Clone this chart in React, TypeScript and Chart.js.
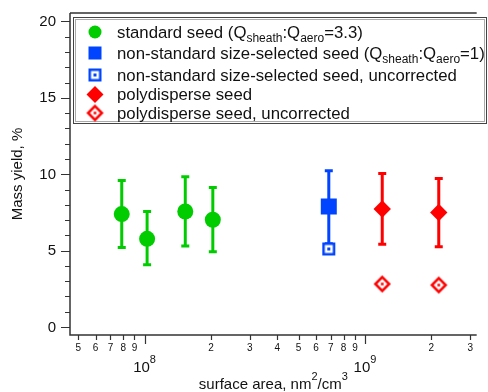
import React, { useEffect, useRef } from "react";
import { Chart, registerables } from "chart.js";
Chart.register(...registerables);

// ---- data ----
const standardX = [7.88e7, 1.027e8, 1.53e8, 2.04e8];
const standardY = [7.39, 5.77, 7.56, 7.02];
const standardLow = [5.2, 4.07, 5.31, 4.92];
const standardHigh = [9.59, 7.56, 9.84, 9.13];

const nonStdX = [6.85e8];
const nonStdY = [7.89];
const nonStdLow = [5.45];
const nonStdHigh = [10.23];
const nonStdUncY = [5.11];

const polyX = [1.197e9, 2.16e9];
const polyY = [7.72, 7.5];
const polyLow = [5.42, 5.25];
const polyHigh = [10.05, 9.72];
const polyUncY = [2.82, 2.75];

const xMinorTicks = [5e7, 6e7, 7e7, 8e7, 9e7, 2e8, 3e8, 4e8, 5e8, 6e8, 7e8, 8e8, 9e8, 2e9, 3e9];
const xMinorLabels = ["5", "6", "7", "8", "9", "2", "3", "4", "5", "6", "7", "8", "9", "2", "3"];
const xMajorTicks = [1e8, 1e9];
const xMajorExp = ["8", "9"];
const yMajorTicks = [0, 5, 10, 15, 20];
const yMajorLabels = ["0", "5", "10", "15", "20"];
const yMinorTicks = [1, 2, 3, 4, 6, 7, 8, 9, 11, 12, 13, 14, 16, 17, 18, 19];

type Seg = { t: string; sub?: boolean; sup?: boolean };
const legendLabels: Seg[][] = [
  [{ t: "standard seed (Q" }, { t: "sheath", sub: true }, { t: ":Q" }, { t: "aero", sub: true }, { t: "=3.3)" }],
  [{ t: "non-standard size-selected seed (Q" }, { t: "sheath", sub: true }, { t: ":Q" }, { t: "aero", sub: true }, { t: "=1)" }],
  [{ t: "non-standard size-selected seed, uncorrected" }],
  [{ t: "polydisperse seed" }],
  [{ t: "polydisperse seed, uncorrected" }],
];
const xTitle: Seg[] = [{ t: "surface area, nm" }, { t: "2", sup: true }, { t: "/cm" }, { t: "3", sup: true }];
const yTitle = "Mass yield, %";

const GREEN = "rgb(0,204,0)";
const BLUE = "rgb(0,68,255)";
const RED = "rgb(255,0,0)";
const FONT = "'Liberation Sans', Arial, sans-serif";

function openSquare(color: string, half: number) {
  const c = document.createElement("canvas");
  const s = Math.ceil(half * 2 + 4);
  c.width = s;
  c.height = s;
  const g = c.getContext("2d")!;
  const m = s / 2;
  g.fillStyle = "#fff";
  g.fillRect(m - half, m - half, half * 2, half * 2);
  g.strokeStyle = color;
  g.lineWidth = 2.5;
  g.strokeRect(m - half + 1.25, m - half + 1.25, half * 2 - 2.5, half * 2 - 2.5);
  g.fillStyle = color;
  g.fillRect(m - 1.5, m - 1.5, 3, 3);
  return c;
}

function openDiamond(color: string, r: number) {
  const c = document.createElement("canvas");
  const s = Math.ceil(r * 2 + 4);
  c.width = s;
  c.height = s;
  const g = c.getContext("2d")!;
  const m = s / 2;
  const ri = r - 1.6;
  g.beginPath();
  g.moveTo(m, m - ri);
  g.lineTo(m + ri, m);
  g.lineTo(m, m + ri);
  g.lineTo(m - ri, m);
  g.closePath();
  g.fillStyle = "#fff";
  g.fill();
  g.strokeStyle = color;
  g.lineWidth = 2.5;
  g.lineJoin = "miter";
  g.stroke();
  g.fillStyle = color;
  g.fillRect(m - 1.3, m - 1.3, 2.6, 2.6);
  return c;
}

function drawRich(ctx: CanvasRenderingContext2D, segs: Seg[], x: number, y: number, size: number, subSize: number, align: "left" | "center" = "left", subDy = 4) {
  const fontOf = (s: Seg) => `${s.sub || s.sup ? subSize : size}px ${FONT}`;
  let total = 0;
  for (const s of segs) {
    ctx.font = fontOf(s);
    total += ctx.measureText(s.t).width;
  }
  let cx = align === "center" ? x - total / 2 : x;
  ctx.textAlign = "left";
  ctx.textBaseline = "alphabetic";
  for (const s of segs) {
    ctx.font = fontOf(s);
    const dy = s.sub ? subDy : s.sup ? -size * 0.62 : 0;
    ctx.fillText(s.t, cx, y + dy);
    cx += ctx.measureText(s.t).width;
  }
}

const errorBars = {
  id: "errorBars",
  beforeDatasetsDraw(chart: any) {
    const ctx = chart.ctx as CanvasRenderingContext2D;
    const xs = chart.scales.x;
    const ys = chart.scales.y;
    const groups = [
      { x: standardX, lo: standardLow, hi: standardHigh, c: GREEN },
      { x: nonStdX, lo: nonStdLow, hi: nonStdHigh, c: BLUE },
      { x: polyX, lo: polyLow, hi: polyHigh, c: RED },
    ];
    ctx.save();
    ctx.lineWidth = 3;
    for (const g of groups) {
      ctx.strokeStyle = g.c;
      g.x.forEach((xv, i) => {
        const px = xs.getPixelForValue(xv);
        const yl = ys.getPixelForValue(g.lo[i]);
        const yh = ys.getPixelForValue(g.hi[i]);
        ctx.beginPath();
        ctx.moveTo(px, yl);
        ctx.lineTo(px, yh);
        ctx.moveTo(px - 4, yl);
        ctx.lineTo(px + 4, yl);
        ctx.moveTo(px - 4, yh);
        ctx.lineTo(px + 4, yh);
        ctx.stroke();
      });
    }
    ctx.restore();
  },
};

const axesPlugin = {
  id: "axesPlugin",
  beforeDatasetsDraw(chart: any) {
    const ctx = chart.ctx as CanvasRenderingContext2D;
    const a = chart.chartArea;
    const xs = chart.scales.x;
    const ys = chart.scales.y;
    ctx.save();
    ctx.strokeStyle = "#333";
    ctx.lineWidth = 1.5;
    ctx.beginPath();
    ctx.moveTo(a.left, a.top);
    ctx.lineTo(a.left, a.bottom);
    ctx.lineTo(a.right, a.bottom);
    ctx.moveTo(a.left, a.top);
    ctx.lineTo(a.right, a.top);
    ctx.stroke();

    ctx.lineWidth = 1.2;
    ctx.beginPath();
    for (const v of yMajorTicks) {
      const py = Math.round(ys.getPixelForValue(v)) + 0.5;
      ctx.moveTo(a.left - 9, py);
      ctx.lineTo(a.left, py);
    }
    for (const v of yMinorTicks) {
      const py = Math.round(ys.getPixelForValue(v)) + 0.5;
      ctx.moveTo(a.left - 5, py);
      ctx.lineTo(a.left, py);
    }
    for (const v of xMajorTicks) {
      const px = Math.round(xs.getPixelForValue(v)) + 0.5;
      ctx.moveTo(px, a.bottom);
      ctx.lineTo(px, a.bottom + 9);
    }
    for (const v of xMinorTicks) {
      const px = Math.round(xs.getPixelForValue(v)) + 0.5;
      ctx.moveTo(px, a.bottom);
      ctx.lineTo(px, a.bottom + 5);
    }
    ctx.stroke();

    ctx.fillStyle = "#111";
    ctx.font = `15px ${FONT}`;
    ctx.textAlign = "right";
    ctx.textBaseline = "middle";
    yMajorTicks.forEach((v, i) => {
      ctx.fillText(yMajorLabels[i], a.left - 14, ys.getPixelForValue(v) + 0.5);
    });
    ctx.font = `10px ${FONT}`;
    ctx.textAlign = "center";
    ctx.textBaseline = "alphabetic";
    xMinorTicks.forEach((v, i) => {
      ctx.fillText(xMinorLabels[i], xs.getPixelForValue(v), a.bottom + 16);
    });
    xMajorTicks.forEach((v, i) => {
      drawRich(ctx, [{ t: "10" }, { t: xMajorExp[i], sup: true }], xs.getPixelForValue(v), a.bottom + 37, 15, 11, "center");
    });
    drawRich(ctx, xTitle, (a.left + a.right) / 2, 389, 15, 11, "center");

    ctx.save();
    ctx.translate(18, (a.top + a.bottom) / 2);
    ctx.rotate(-Math.PI / 2);
    ctx.font = `15px ${FONT}`;
    ctx.textAlign = "center";
    ctx.textBaseline = "middle";
    ctx.fillText(yTitle, 0, 0);
    ctx.restore();
    ctx.restore();
  },
};

const legendPlugin = {
  id: "customLegend",
  afterDraw(chart: any) {
    const ctx = chart.ctx as CanvasRenderingContext2D;
    ctx.save();
    ctx.fillStyle = "#fff";
    ctx.fillRect(73, 17, 414, 107);
    ctx.lineWidth = 1;
    ctx.strokeStyle = "#444";
    ctx.strokeRect(73.5, 17.5, 413, 106);
    ctx.strokeStyle = "#aaa";
    ctx.strokeRect(75.5, 19.5, 409, 102);

    const baselines = [37.5, 58.5, 80.5, 100, 118.5];
    const centers = [32, 53, 75, 94.5, 113];
    const mx = 95;
    // markers
    ctx.fillStyle = GREEN;
    ctx.beginPath();
    ctx.arc(mx, centers[0], 6.5, 0, Math.PI * 2);
    ctx.fill();
    ctx.fillStyle = BLUE;
    ctx.fillRect(mx - 6.5, centers[1] - 6.5, 13, 13);
    const os = openSquare(BLUE, 6.5);
    ctx.drawImage(os, mx - os.width / 2, centers[2] - os.height / 2);
    ctx.fillStyle = RED;
    ctx.beginPath();
    ctx.moveTo(mx, centers[3] - 8.5);
    ctx.lineTo(mx + 8.5, centers[3]);
    ctx.lineTo(mx, centers[3] + 8.5);
    ctx.lineTo(mx - 8.5, centers[3]);
    ctx.closePath();
    ctx.fill();
    const od = openDiamond(RED, 8.5);
    ctx.drawImage(od, mx - od.width / 2, centers[4] - od.height / 2);

    ctx.fillStyle = "#111";
    legendLabels.forEach((segs, i) => {
      drawRich(ctx, segs, 117, baselines[i], 16.75, 12, "left", 4.5);
    });
    ctx.restore();
  },
};

export default function App() {
  const ref = useRef<HTMLCanvasElement>(null);
  useEffect(() => {
    document.body.style.margin = "0";
    const toPts = (xs: number[], ys: number[]) => xs.map((x, i) => ({ x, y: ys[i] }));
    const chart = new Chart(ref.current!, {
      type: "scatter",
      data: {
        datasets: [
          {
            label: "standard seed",
            data: toPts(standardX, standardY),
            pointStyle: "circle",
            pointRadius: 8,
            backgroundColor: GREEN,
            borderColor: GREEN,
            borderWidth: 0,
          },
          {
            label: "non-standard size-selected seed",
            data: toPts(nonStdX, nonStdY),
            pointStyle: "rect",
            pointRadius: 8 / Math.SQRT1_2,
            backgroundColor: BLUE,
            borderColor: BLUE,
            borderWidth: 0,
          },
          {
            label: "non-standard size-selected seed, uncorrected",
            data: toPts(nonStdX, nonStdUncY),
            pointStyle: openSquare(BLUE, 6.5) as any,
            pointRadius: 7,
          },
          {
            label: "polydisperse seed",
            data: toPts(polyX, polyY),
            pointStyle: "rectRot",
            pointRadius: 8.7,
            backgroundColor: RED,
            borderColor: RED,
            borderWidth: 0,
          },
          {
            label: "polydisperse seed, uncorrected",
            data: toPts(polyX, polyUncY),
            pointStyle: openDiamond(RED, 8.5) as any,
            pointRadius: 8,
          },
        ],
      },
      options: {
        responsive: false,
        animation: false,
        layout: { padding: { left: 70, right: 0, top: 13, bottom: 57 } },
        scales: {
          x: { type: "logarithmic", min: 4.59e7, max: 3.21e9, display: false },
          y: { type: "linear", min: -0.52, max: 20.55, display: false },
        },
        plugins: { legend: { display: false }, tooltip: { enabled: false } },
      },
      plugins: [axesPlugin, errorBars, legendPlugin],
    });
    return () => chart.destroy();
  }, []);
  return (
    <div style={{ position: "absolute", left: 0, top: 0, width: 488, height: 392 }}>
      <canvas ref={ref} width={488} height={392} style={{ display: "block", width: 488, height: 392 }} />
    </div>
  );
}
